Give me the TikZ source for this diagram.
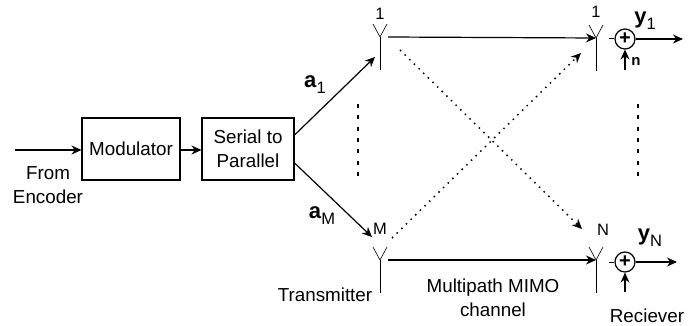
\documentclass[tikz,border=0pt]{standalone}
\usepackage{fontspec}
\setmainfont{Liberation Sans}
\usetikzlibrary{arrows.meta, positioning, calc}

\begin{document}
\begin{tikzpicture}[
      x=1pt, y=-1pt,
      block/.style={rectangle, draw, line width=1.1pt, align=center, inner sep=0pt},
      sumnode/.style={circle, draw, line width=1.2pt, minimum size=20pt, inner sep=0pt},
      label/.style={font=\fontsize{18.8}{23.5}\selectfont, align=center, inner sep=0pt},
      small/.style={font=\fontsize{16.5}{18}\selectfont, inner sep=0pt},
      sym/.style={font=\fontsize{22}{24}\selectfont\bfseries, inner sep=0pt},
      link/.style={line width=1.2pt, -{Stealth[length=10pt, width=9pt]}},
      cross/.style={line width=1.5pt, dash pattern=on 1.5pt off 5pt, -{Stealth[length=10pt, width=9pt]}},
      dots/.style={line width=2.2pt, dash pattern=on 4pt off 7.3pt},
      >=Stealth
    ]
    \useasboundingbox (0,0) rectangle (698,326);

    % Blokker
    \node[block, minimum width=98pt, minimum height=62pt, label] (MOD) at (131,149) {Modulator};
    \node[block, minimum width=92pt, minimum height=62pt, label] (SP) at (248,149) {Serial to\\Parallel};
    \coordinate (IN) at (15,150);
    \node[label] (FE) at (48,185) {From\\Encoder};
    \draw[link] (IN) -- (IN -| MOD.west);
    \draw[link] (MOD.east |- IN) -- (SP.west |- IN);

    % Antenner
    \foreach \ant/\x/\y in {T1/380/37, TM/380/260, R1/596/38, RN/596/260} {
      \coordinate (\ant) at (\x,\y);
      \draw[line width=0.8pt] (\ant) -- ++(0,33);
      \draw[line width=0.6pt] (\ant) -- ++(-7,-13);
      \draw[line width=0.6pt] (\ant) -- ++(7,-13);
    }
    \node[small] (L1) at (380,14) {1};
    \node[small] (LM) at (380,229) {M};
    \node[small] (R1L) at (596,12) {1};
    \node[small] (RNL) at (603,230) {N};

    % Piler fra seriell til antenne
    \coordinate (A1) at (375,57);
    \coordinate (AM) at (372,237);
    \draw[link] ([yshift=14pt]SP.east) -- (A1);
    \draw[link] ([yshift=-14pt]SP.east) -- (AM);
    \node[sym] (a1) at (315,85) {a\textmd{\fontsize{16.5}{18}\selectfont\raisebox{-6pt}{1}}};
    \node[sym] (aM) at (322,216) {a\textmd{\fontsize{16.5}{18}\selectfont\raisebox{-6pt}{M}}};

    % Kanal
    \draw[link] ([xshift=8pt]T1) -- (R1);
    \draw[link] ([xshift=8pt]TM) -- (RN);
    \coordinate (C1) at (400,50);
    \coordinate (C2) at (582,229);
    \coordinate (C3) at (392,238);
    \coordinate (C4) at (581,53);
    \draw[cross] (C1) -- (C2);
    \draw[cross] (C3) -- (C4);
    \node[label] (TX) at (325,295) {Transmitter};
    \node[label] (CH) at (493,298) {Multipath MIMO\\channel};

    % Mottaker
    \node[sumnode, font=\fontsize{20}{20}\selectfont\bfseries] (S1) at (625,39) {+};
    \node[sumnode, font=\fontsize{20}{20}\selectfont\bfseries] (SN) at (625,262) {+};
    \coordinate (O1) at (683,39);
    \coordinate (ON) at (677,262);
    \coordinate (N1) at (625,70);
    \coordinate (NN) at (625,292);
    \draw[line width=1pt] (S1.west) -- ++(-5,0);
    \draw[line width=1pt] (SN.west) -- ++(-5,0);
    \draw[link] (S1) -- (O1);
    \draw[link] (SN) -- (ON);
    \draw[link] (N1) -- (S1);
    \draw[link] (NN) -- (SN);
    \node[sym] (y1) at (645,21) {y\textmd{\fontsize{16.5}{18}\selectfont\raisebox{-6pt}{1}}};
    \node[sym] (yN) at (650,238) {y\textmd{\fontsize{16.5}{18}\selectfont\raisebox{-6pt}{N}}};
    \node[font=\fontsize{15}{16}\selectfont\bfseries, inner sep=0pt] (n) at (636,61) {n};
    \node[label] (RX) at (647,316) {Reciever};

    % Prikker
    \draw[dots] (358,104) -- (358,176);
    \draw[dots] (638,104) -- (638,176);
\end{tikzpicture}
\end{document}
